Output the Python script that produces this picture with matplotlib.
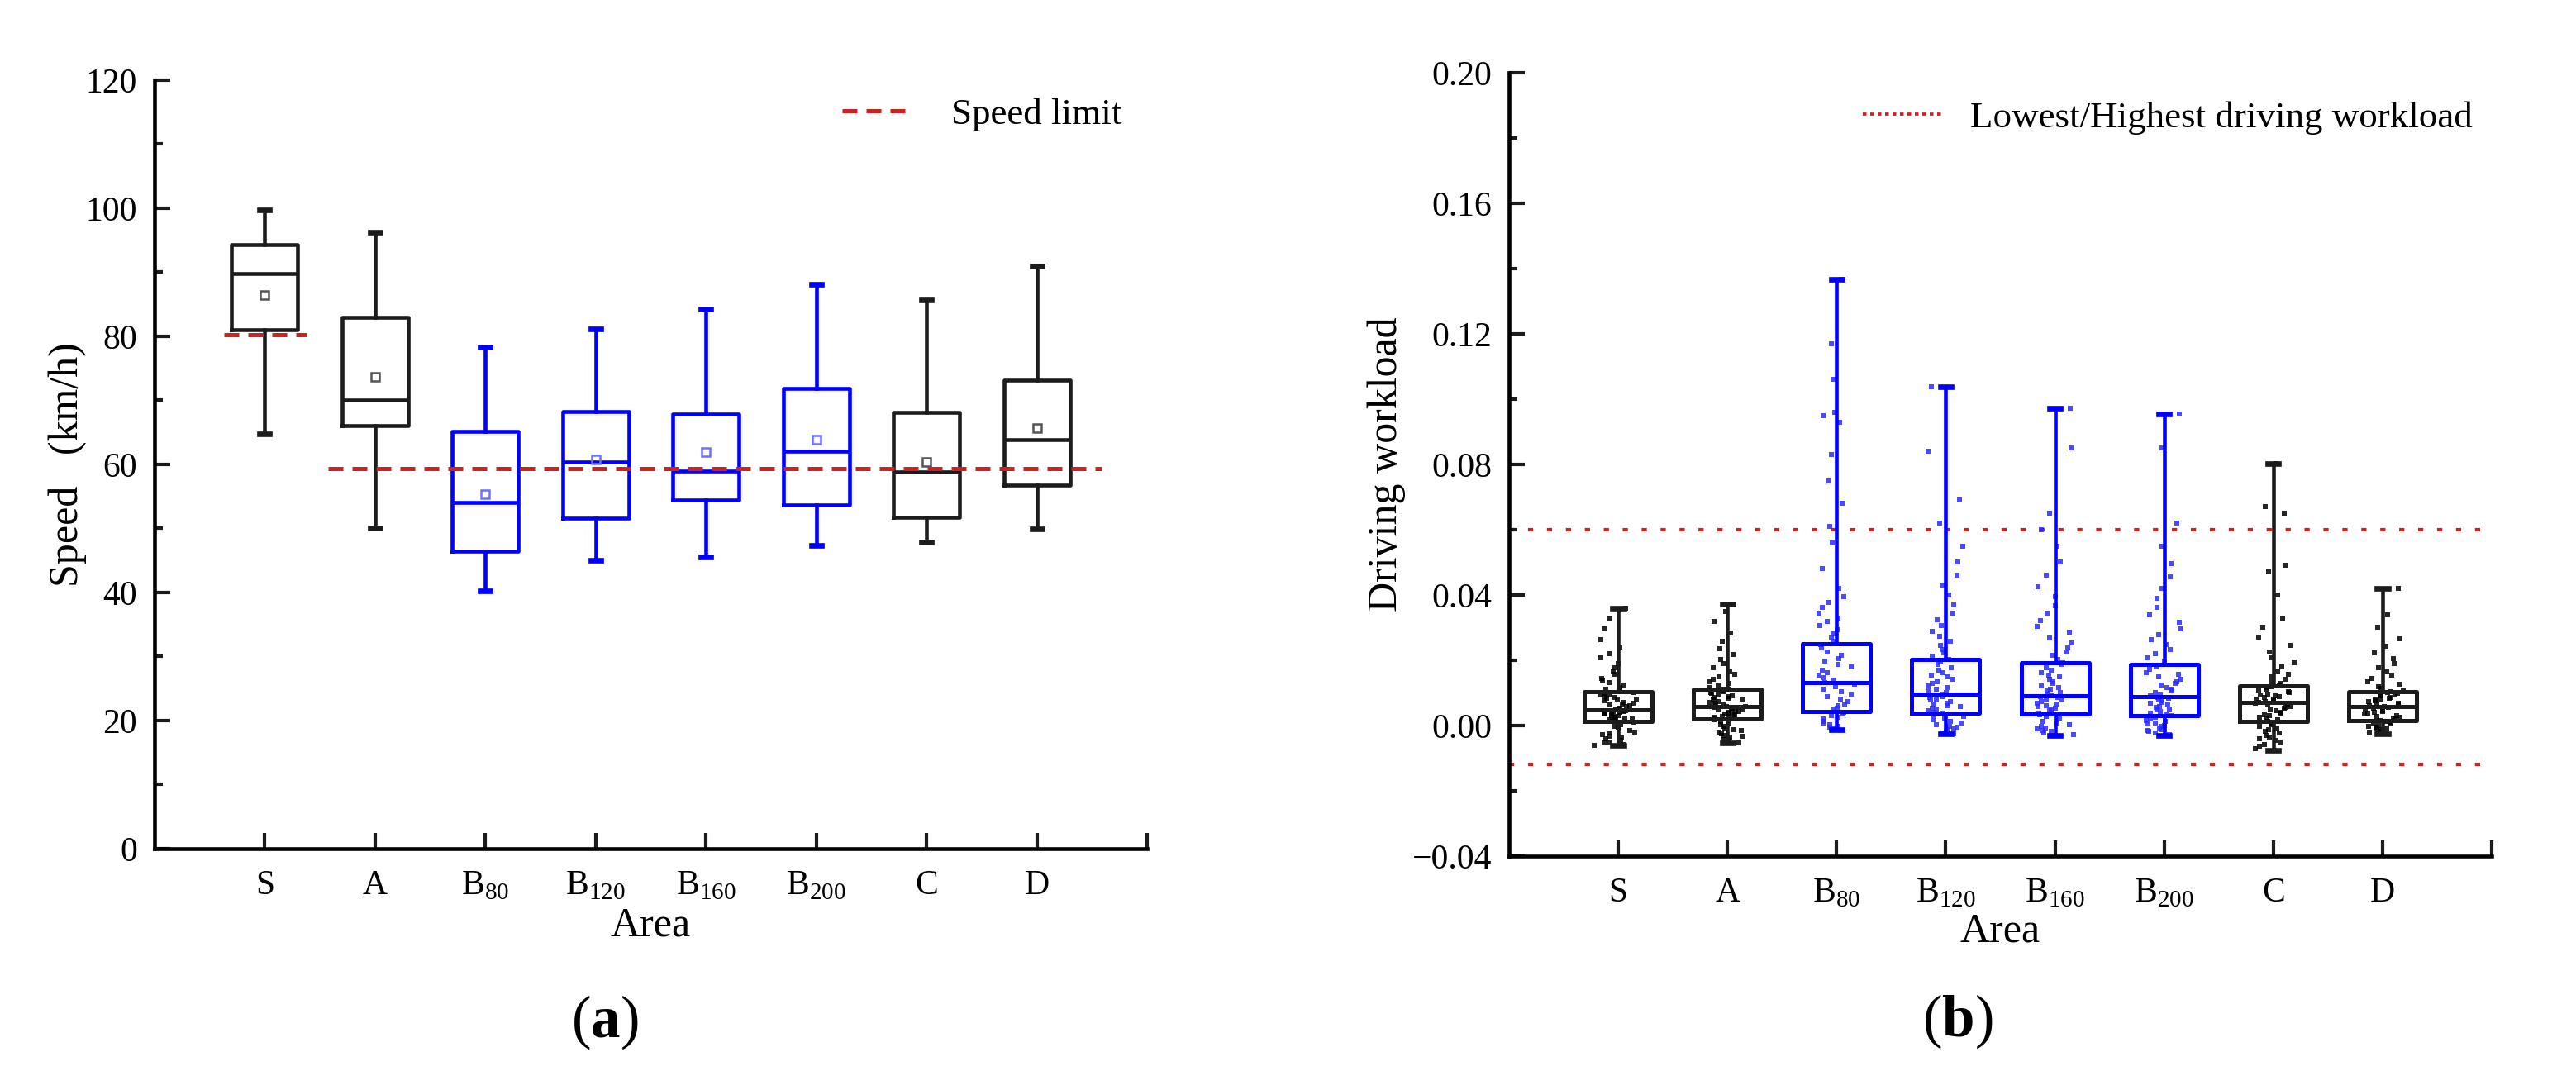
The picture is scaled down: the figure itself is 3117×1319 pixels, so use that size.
import numpy as np
import matplotlib.pyplot as plt
from matplotlib.lines import Line2D
from matplotlib.ticker import MultipleLocator, FuncFormatter

plt.rcParams['font.family'] = ['Liberation Serif', 'DejaVu Serif']
plt.rcParams['mathtext.fontset'] = 'custom'
plt.rcParams['mathtext.rm'] = 'Liberation Serif'
plt.rcParams['mathtext.bf'] = 'Liberation Serif:bold'

# categories
areas = ['S', 'A', 'B$_{80}$', 'B$_{120}$', 'B$_{160}$', 'B$_{200}$', 'C', 'D']
is_b = [False, False, True, True, True, True, False, False]

# (a) speed box statistics, km/h
speed_lo = [64.8, 50.1, 40.2, 45.0, 45.6, 47.4, 47.9, 49.9]
speed_q1 = [81.0, 66.1, 46.4, 51.6, 54.4, 53.7, 51.7, 56.8]
speed_med = [89.8, 70.1, 54.1, 60.4, 59.0, 62.1, 58.8, 63.9]
speed_q3 = [94.3, 82.9, 65.2, 68.2, 67.9, 71.8, 68.1, 73.2]
speed_hi = [99.7, 96.2, 78.3, 81.2, 84.2, 88.1, 85.6, 91.0]
speed_mean = [86.4, 73.6, 55.4, 60.7, 61.9, 63.9, 60.4, 65.7]

# speed limits: value, x from, x to
limit_s = (80.3, 0.63, 1.38)
limit_rest = (59.3, 1.57, 8.59)

# (b) driving workload box statistics
wl_lo = [-0.0061, -0.0054, -0.0012, -0.0026, -0.0031, -0.0031, -0.0075, -0.0026]
wl_q1 = [0.0013, 0.0021, 0.0044, 0.0038, 0.0036, 0.0029, 0.0013, 0.0015]
wl_med = [0.0048, 0.0059, 0.0132, 0.0097, 0.0091, 0.0089, 0.0070, 0.0057]
wl_q3 = [0.0103, 0.0111, 0.0251, 0.0203, 0.0192, 0.0186, 0.0122, 0.0103]
wl_hi = [0.0358, 0.0373, 0.1367, 0.1037, 0.0972, 0.0955, 0.0803, 0.0421]
wl_bounds = [0.060, -0.012]

# (b) raw workload points (estimated from the cloud)
pts_S = [-.0061, -.0058, -.0053, -.0050, -.0046, -.0041, -.0037, -.0034, -.0029, -.0024, -.0021, -.0015,
         -.0011, -.0006, -.0002, .0003, .0010, .0014, .0015, .0018, .0021, .0022, .0025, .0027, .0029,
         .0031, .0033, .0034, .0037, .0039, .0041, .0043, .0044, .0046, .0048, .0051, .0053, .0057, .0060,
         .0062, .0066, .0069, .0071, .0075, .0078, .0080, .0084, .0087, .0090, .0093, .0096, .0099, .0102,
         .0107, .0112, .0116, .0124, .0131, .0137, .0145, .0157, .0168, .0176, .0190, .0207, .0219, .0241,
         .0262, .0295, .0330, .0358]
pts_A = [-.0054, -.0050, -.0047, -.0042, -.0039, -.0033, -.0030, -.0025, -.0021, -.0016, -.0012, -.0007,
         -.0003, .0002, .0007, .0012, .0017, .0022, .0024, .0026, .0028, .0031, .0033, .0035, .0037, .0040,
         .0042, .0044, .0046, .0049, .0051, .0053, .0055, .0057, .0059, .0062, .0065, .0068, .0071, .0074,
         .0077, .0080, .0084, .0086, .0089, .0092, .0096, .0099, .0102, .0104, .0107, .0110, .0112, .0117,
         .0121, .0128, .0134, .0141, .0149, .0158, .0167, .0178, .0189, .0203, .0218, .0236, .0258, .0284,
         .0320, .0350, .0373]
pts_B80 = [-.0012, -.0009, -.0006, -.0002, .0003, .0008, .0013, .0019, .0024, .0030, .0035, .0041, .0047,
           .0053, .0060, .0066, .0073, .0080, .0088, .0095, .0103, .0110, .0118, .0126, .0131, .0138, .0146,
           .0153, .0162, .0170, .0179, .0188, .0197, .0206, .0216, .0226, .0238, .0248, .0257, .0268, .0280,
           .0293, .0305, .0318, .0330, .0345, .0362, .0378, .0395, .0420, .0480, .0560, .0610, .0680, .0750,
           .0830, .0930, .0950, .0960, .1060, .1170, .1367]
pts_B120 = [-.0026, -.0022, -.0018, -.0014, -.0010, -.0006, -.0002, .0003, .0008, .0013, .0018, .0023, .0028,
            .0033, .0037, .0041, .0045, .0049, .0053, .0057, .0061, .0065, .0069, .0073, .0077, .0081, .0085,
            .0089, .0093, .0096, .0100, .0105, .0110, .0116, .0122, .0128, .0134, .0141, .0148, .0155, .0162,
            .0170, .0178, .0187, .0195, .0203, .0212, .0222, .0233, .0245, .0258, .0272, .0288, .0305, .0324,
            .0345, .0370, .0400, .0430, .0460, .0500, .0550, .0620, .0690, .0840, .1037]
pts_B160 = [-.0031, -.0027, -.0023, -.0019, -.0015, -.0011, -.0007, -.0003, .0002, .0007, .0012, .0017, .0022,
            .0027, .0032, .0037, .0041, .0045, .0049, .0053, .0057, .0061, .0065, .0069, .0073, .0077, .0081,
            .0085, .0088, .0091, .0095, .0100, .0105, .0110, .0116, .0122, .0128, .0134, .0141, .0148, .0155,
            .0162, .0170, .0178, .0186, .0193, .0203, .0214, .0226, .0239, .0253, .0268, .0285, .0303, .0322,
            .0345, .0368, .0395, .0425, .0460, .0500, .0550, .0600, .0650, .0850, .0972]
pts_B200 = [-.0031, -.0027, -.0023, -.0019, -.0016, -.0012, -.0008, -.0004, .0000, .0004, .0008, .0012, .0016,
            .0021, .0025, .0030, .0034, .0038, .0042, .0047, .0051, .0055, .0059, .0063, .0067, .0071, .0075,
            .0079, .0083, .0087, .0090, .0095, .0100, .0105, .0111, .0117, .0123, .0129, .0135, .0142, .0149,
            .0156, .0163, .0171, .0179, .0187, .0197, .0208, .0220, .0233, .0247, .0262, .0279, .0297, .0316,
            .0338, .0362, .0390, .0420, .0455, .0495, .0550, .0620, .0850, .0955]
pts_C = [-.0075, -.0070, -.0064, -.0058, -.0052, -.0046, -.0041, -.0035, -.0030, -.0024, -.0019, -.0013,
         -.0008, -.0003, .0003, .0008, .0012, .0017, .0021, .0025, .0029, .0033, .0037, .0041, .0045, .0049,
         .0053, .0056, .0059, .0062, .0065, .0068, .0070, .0073, .0076, .0079, .0082, .0085, .0088, .0091,
         .0094, .0097, .0100, .0104, .0108, .0112, .0116, .0120, .0123, .0128, .0134, .0141, .0149, .0158,
         .0168, .0180, .0193, .0208, .0225, .0245, .0270, .0300, .0330, .0400, .0470, .0490, .0650, .0670,
         .0803]
pts_D = [-.0026, -.0023, -.0020, -.0017, -.0014, -.0011, -.0008, -.0005, -.0002, .0001, .0004, .0007, .0010,
         .0013, .0016, .0019, .0022, .0025, .0028, .0031, .0034, .0037, .0040, .0043, .0046, .0049, .0052,
         .0055, .0057, .0060, .0063, .0066, .0069, .0072, .0075, .0078, .0081, .0084, .0087, .0090, .0093,
         .0096, .0099, .0102, .0104, .0109, .0114, .0120, .0127, .0135, .0144, .0154, .0165, .0177, .0190,
         .0205, .0222, .0242, .0265, .0300, .0340, .0421]
points = [pts_S, pts_A, pts_B80, pts_B120, pts_B160, pts_B200, pts_C, pts_D]

BLACK = '#1c1c1c'
BLUE = '#0000ff'
RED = '#cc2222'

fig = plt.figure(figsize=(10.39, 4.397), dpi=300)
ax1 = fig.add_axes([0.0600, 0.2214, 0.3853, 0.7051])
ax2 = fig.add_axes([0.5858, 0.2146, 0.3815, 0.7187])

pos = np.arange(1, len(areas) + 1)


def style_axes(ax):
    for s in ['top', 'right']:
        ax.spines[s].set_visible(False)
    for s in ['left', 'bottom']:
        ax.spines[s].set_linewidth(1.1)
    ax.tick_params(which='both', direction='in', width=1.0, labelsize=10, color=BLACK)
    ax.tick_params(which='major', length=4.5)
    ax.tick_params(which='minor', length=2.4)
    ax.tick_params(axis='y', pad=5)
    ax.tick_params(axis='x', pad=6)
    ax.set_xlim(0, 9)
    ax.set_xticks(list(pos) + [9])
    ax.set_xticklabels(areas + [''])


# ---- (a) speed ----
for i in range(len(areas)):
    c = BLUE if is_b[i] else BLACK
    mc = '#7070ff' if is_b[i] else '#555555'
    st = dict(whislo=speed_lo[i], q1=speed_q1[i], med=speed_med[i], q3=speed_q3[i],
              whishi=speed_hi[i], mean=speed_mean[i], fliers=[])
    ax1.bxp([st], positions=[pos[i]], widths=0.6, capwidths=[0.09], showmeans=True,
            boxprops=dict(color=c, lw=1.1), medianprops=dict(color=c, lw=1.1),
            whiskerprops=dict(color=c, lw=1.1), capprops=dict(color=c, lw=1.6),
            meanprops=dict(marker='s', markersize=2.2, markerfacecolor='none',
                           markeredgecolor=mc, markeredgewidth=0.6))

ax1.hlines(limit_s[0], limit_s[1], limit_s[2], colors=RED, lw=1.2, linestyles=(0, (3.6, 2.2)), zorder=4)
ax1.hlines(limit_rest[0], limit_rest[1], limit_rest[2], colors=RED, lw=1.2, linestyles=(0, (3.6, 2.2)), zorder=4)

style_axes(ax1)
ax1.set_ylim(0, 120)
ax1.yaxis.set_major_locator(MultipleLocator(20))
ax1.yaxis.set_minor_locator(MultipleLocator(10))
ax1.set_ylabel('Speed   (km/h)', fontsize=12)
ax1.yaxis.set_label_coords(-0.088, 0.5)
ax1.yaxis.label.set_va('center')
ax1.set_xlabel('Area', fontsize=12)
ax1.xaxis.set_label_coords(0.5, -0.100)
ax1.xaxis.label.set_va('center')

h1 = [Line2D([], [], color=RED, lw=1.2, linestyle=(0, (3.6, 2.2)))]
ax1.legend(h1, ['Speed limit'], loc='center left', bbox_to_anchor=(0.693, 0.955), frameon=False,
           fontsize=10.8, borderpad=0, borderaxespad=0, handlelength=1.68, handletextpad=1.24)

# ---- (b) driving workload ----
for i in range(len(areas)):
    c = BLUE if is_b[i] else BLACK
    pc = '#2a2aff' if is_b[i] else '#000000'
    y = np.array(points[i])
    k = np.arange(len(y)) + 11 * i
    # scattered horizontal offsets (heavier near the centre), no effect on the values
    u1 = (np.sin(k * 12.9898) * 43758.5453) % 1
    u2 = (np.sin(k * 78.233) * 24634.6345) % 1
    jitter = (u1 + u2 - 1.0) * 0.22
    ax2.plot(pos[i] + jitter, y, 's', ms=1.6, color=pc, mew=0, alpha=0.85, zorder=2)
    st = dict(whislo=wl_lo[i], q1=wl_q1[i], med=wl_med[i], q3=wl_q3[i], whishi=wl_hi[i], fliers=[])
    ax2.bxp([st], positions=[pos[i]], widths=0.62, capwidths=[0.1],
            boxprops=dict(color=c, lw=1.2), medianprops=dict(color=c, lw=1.2),
            whiskerprops=dict(color=c, lw=1.1), capprops=dict(color=c, lw=1.6))

for b in wl_bounds:
    ax2.axhline(b, color=RED, lw=1.0, linestyle=(0, (1.5, 4.0)), zorder=1)

style_axes(ax2)
ax2.set_ylim(-0.04, 0.20)
ax2.yaxis.set_major_locator(MultipleLocator(0.04))
ax2.yaxis.set_minor_locator(MultipleLocator(0.02))
ax2.yaxis.set_major_formatter(FuncFormatter(lambda v, p: f'{round(v, 4) + 0.0:.2f}'.replace('-', '\u2212')))
ax2.set_ylabel('Driving workload', fontsize=12)
ax2.yaxis.set_label_coords(-0.1245, 0.5)
ax2.yaxis.label.set_va('center')
ax2.set_xlabel('Area', fontsize=12)
ax2.xaxis.set_label_coords(0.5, -0.096)
ax2.xaxis.label.set_va('center')

h2 = [Line2D([], [], color=RED, lw=0.9, linestyle=(0, (1.2, 1.2)))]
ax2.legend(h2, ['Lowest/Highest driving workload'], loc='center left', bbox_to_anchor=(0.360, 0.942),
           frameon=False, fontsize=10.8, borderpad=0, borderaxespad=0, handlelength=2.14, handletextpad=0.74)

# panel labels
fig.text(732 / 3117, 1 - 1237 / 1319, r'($\mathbf{a}$)', ha='center', va='center', fontsize=17)
fig.text(2369 / 3117, 1 - 1236 / 1319, r'($\mathbf{b}$)', ha='center', va='center', fontsize=17)

fig.savefig('out.png', dpi=300)
